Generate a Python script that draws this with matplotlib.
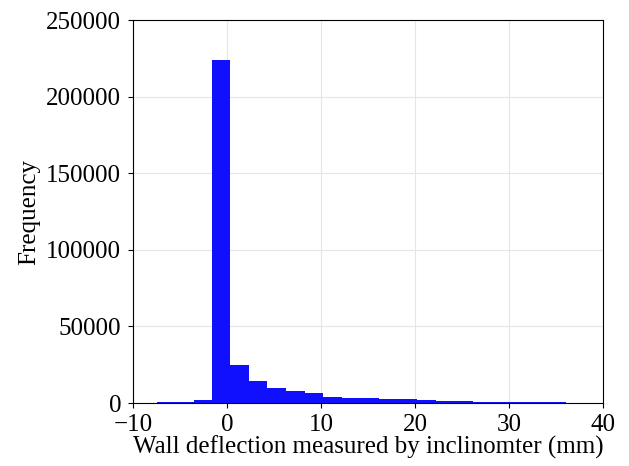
import matplotlib.pyplot as plt
import numpy as np

plt.rcParams['font.family'] = ['Liberation Serif', 'DejaVu Serif']

# histogram bin edges (mm) and counts
bin_edges = [-7.4, -5.4, -3.5, -1.6, 0.3, 2.3, 4.3, 6.3, 8.3, 10.2, 12.2, 14.2,
             16.2, 18.2, 20.2, 22.2, 24.2, 26.2, 28.2, 30.1, 32.1, 34.1, 36.1]
counts = [800, 800, 1800, 224000, 24800, 14500, 9800, 8100, 6300, 4200, 3300, 3300,
          2400, 2400, 1700, 1600, 1500, 900, 800, 700, 700, 650]

edges = np.array(bin_edges)
centers = (edges[:-1] + edges[1:]) / 2

fig = plt.figure(figsize=(6.29, 4.66), dpi=100)
ax = fig.add_axes([0.2115, 0.135, 0.747, 0.822])

ax.hist(centers, bins=edges, weights=counts, color='#1010ff', zorder=2)

ax.set_xlim(-10, 40)
ax.set_ylim(0, 250000)
ax.set_xticks([-10, 0, 10, 20, 30, 40])
ax.set_yticks([0, 50000, 100000, 150000, 200000, 250000])
ax.grid(True, color='#e6e6e6', linewidth=0.8, zorder=0)
ax.tick_params(axis='x', labelsize=18, pad=4)
ax.tick_params(axis='y', labelsize=18, pad=5)

ax.set_xlabel('Wall deflection measured by inclinomter (mm)', fontsize=18, labelpad=0)
ax.set_ylabel('Frequency', fontsize=18, labelpad=4)

fig.savefig('out.png', dpi=100)
